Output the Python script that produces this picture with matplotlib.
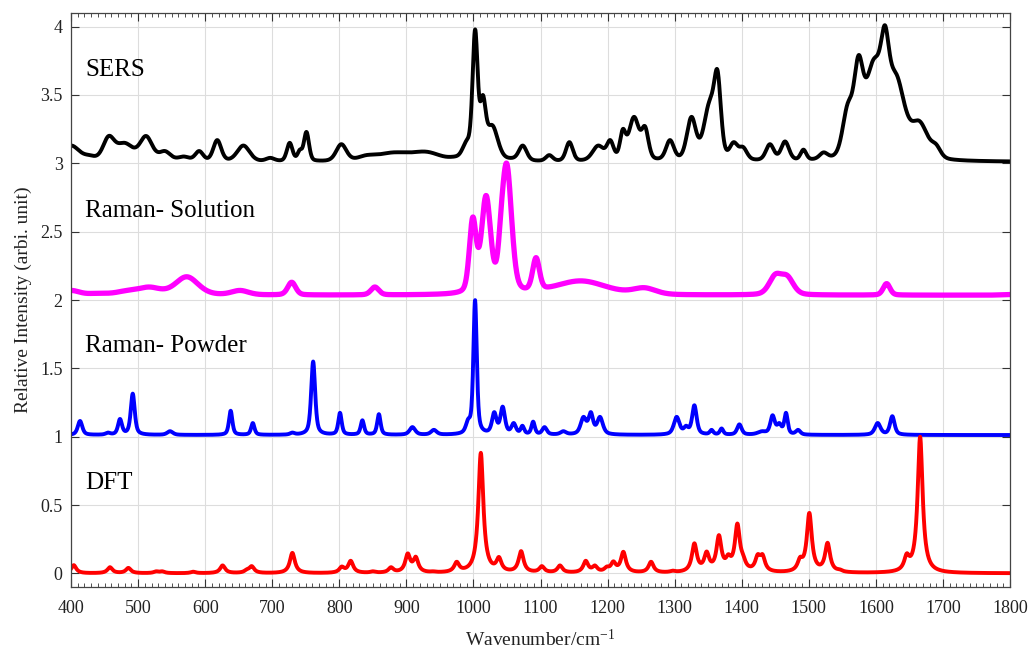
import numpy as np
import matplotlib
matplotlib.use("Agg")
import matplotlib.pyplot as plt
from matplotlib.ticker import MultipleLocator

plt.rcParams['font.family'] = ['Liberation Serif', 'DejaVu Serif']
plt.rcParams['mathtext.fontset'] = 'custom'
plt.rcParams['mathtext.rm'] = 'Liberation Serif'
plt.rcParams['mathtext.default'] = 'regular'

# ---- band tables: centre (cm-1), observed intensity at centre, FWHM (cm-1) ----
sers_base = 3.01
sers_centers = [400, 428, 456, 480, 512, 540, 568, 591, 618, 657, 697, 726, 741, 751, 803,
                840, 880, 930, 972, 990, 1002.5, 1014, 1028, 1057, 1073.5, 1113, 1143, 1186, 1204,
                1222.6, 1239.4, 1256, 1293, 1325, 1352, 1364, 1388, 1402, 1442, 1464.6, 1492,
                1522, 1558, 1574, 1597, 1613.6, 1630, 1665, 1690]
sers_heights = [3.13, 3.06, 3.20, 3.15, 3.20, 3.09, 3.05, 3.09, 3.17, 3.13, 3.04, 3.15, 3.10, 3.23, 3.14,
                3.06, 3.08, 3.085, 3.05, 3.17, 3.98, 3.50, 3.28, 3.04, 3.13, 3.06, 3.155, 3.13, 3.17,
                3.25, 3.34, 3.27, 3.17, 3.34, 3.46, 3.68, 3.155, 3.12, 3.14, 3.16, 3.10,
                3.08, 3.44, 3.79, 3.765, 4.01, 3.66, 3.31, 3.14]
sers_widths = [30, 20, 20, 30, 22, 20, 20, 14, 14, 22, 15, 10, 8, 9, 18,
               30, 60, 50, 20, 15, 9, 10, 20, 20, 14, 12, 12, 20, 12,
               10, 18, 12, 14, 16, 20, 12, 14, 14, 14, 14, 10,
               14, 18, 16, 30, 14, 30, 30, 16]

sol_base = 2.035
sol_centers = [400, 440, 483, 517, 572.5, 652, 729, 853, 975, 999, 1018.8, 1041, 1049.6,
               1093.3, 1160, 1255, 1450, 1468, 1616, 1800]
sol_heights = [2.07, 2.05, 2.07, 2.095, 2.17, 2.07, 2.13, 2.095, 2.05, 2.607, 2.765, 2.655, 3.0,
               2.31, 2.14, 2.09, 2.19, 2.18, 2.12, 2.04]
sol_widths = [30, 30, 40, 40, 40, 30, 14, 14, 30, 12, 16, 10, 17,
              12, 90, 40, 22, 22, 12, 30]

pow_base = 1.012
pow_centers = [413.4, 455, 473, 492, 547.6, 638, 671, 730, 761, 801, 834.4, 859, 909, 941, 992,
               1002.4, 1031, 1043.6, 1060, 1073, 1089, 1106, 1134, 1164, 1175, 1188.7, 1303,
               1317, 1329.4, 1355, 1370, 1396.5, 1430, 1446, 1456, 1466, 1484, 1602.7, 1624.5]
pow_heights = [1.115, 1.03, 1.13, 1.315, 1.04, 1.19, 1.10, 1.03, 1.55, 1.175, 1.12, 1.165, 1.07, 1.05,
               1.13, 2.0, 1.18, 1.22, 1.10, 1.08, 1.11, 1.07, 1.04, 1.145, 1.18, 1.145, 1.145,
               1.08, 1.23, 1.05, 1.06, 1.09, 1.04, 1.157, 1.10, 1.175, 1.05, 1.10, 1.15]
pow_widths = [8, 8, 7, 7, 10, 6, 6, 8, 7, 6, 6, 6, 10, 10, 8,
              6, 8, 8, 8, 6, 6, 8, 10, 10, 8, 10, 10,
              8, 8, 6, 6, 8, 15, 8, 8, 6, 8, 10, 8]

dft_base = 0.0
dft_centers = [404, 458, 485.5, 527, 536, 582, 626, 662, 669.4, 730, 803.6, 817, 850, 877, 902, 914,
               940, 975, 1011, 1038, 1071, 1102, 1129, 1167.4, 1181, 1198.7, 1208.6, 1223.5, 1264.8,
               1297, 1329.4, 1347.7, 1366, 1380, 1393.5, 1402, 1423.8, 1431, 1487, 1500.8, 1528,
               1546, 1646, 1666]
dft_heights = [0.06, 0.045, 0.04, 0.015, 0.015, 0.012, 0.058, 0.03, 0.053, 0.15, 0.05, 0.092, 0.015,
               0.045, 0.146, 0.122, 0.015, 0.085, 0.882, 0.12, 0.163, 0.053, 0.058, 0.092, 0.058,
               0.05, 0.088, 0.158, 0.085, 0.02, 0.22, 0.16, 0.28, 0.14, 0.365, 0.14, 0.14, 0.14,
               0.12, 0.443, 0.224, 0.03, 0.146, 1.0]
dft_fwhm = 9.0

series_names = ['SERS', 'Raman- Solution', 'Raman- Powder', 'DFT']
series_colors = ['black', '#ff00ff', '#0000ff', '#ff0000']

wn = np.arange(400, 1800.01, 0.5)


def band(x, c, w, eta):
    d = (x - c) / w
    gauss = np.exp(-4 * np.log(2) * d ** 2)
    lor = 1.0 / (1.0 + 4 * d ** 2)
    return eta * lor + (1 - eta) * gauss


def spectrum(x, base, centers, heights, widths, eta):
    c = np.asarray(centers, float)
    h = np.asarray(heights, float) - base
    w = np.broadcast_to(np.asarray(widths, float), c.shape)
    A = band(c[:, None], c[None, :], w[None, :], eta)
    active = np.ones(len(c), bool)
    amp = np.zeros(len(c))
    while True:
        sol, *_ = np.linalg.lstsq(A[:, active], h, rcond=None)
        amp[:] = 0
        amp[active] = sol
        if (sol >= 0).all():
            break
        idx = np.flatnonzero(active)[np.argmin(sol)]
        active[idx] = False
    return base + (amp[None, :] * band(x[:, None], c[None, :], w[None, :], eta)).sum(axis=1)


curves = [
    spectrum(wn, sers_base, sers_centers, sers_heights, sers_widths, 0.3),
    spectrum(wn, sol_base, sol_centers, sol_heights, sol_widths, 0.3),
    spectrum(wn, pow_base, pow_centers, pow_heights, pow_widths, 0.6),
    spectrum(wn, dft_base, dft_centers, dft_heights, dft_fwhm, 1.0),
]
line_widths = [2.8, 3.8, 2.8, 2.8]
label_y = [3.68, 2.65, 1.66, 0.66]

fig = plt.figure(figsize=(10.34, 6.49), dpi=100)
ax = fig.add_axes([0.0687, 0.0955, 0.9081, 0.8845])

for y, col, lw in zip(curves, series_colors, line_widths):
    ax.plot(wn, y, color=col, lw=lw, solid_joinstyle='round')

for name, ly in zip(series_names, label_y):
    ax.text(421, ly, name, fontsize=18, ha='left', va='center')

ax.set_xlim(400, 1800)
ax.set_ylim(-0.1, 4.1)
ax.xaxis.set_major_locator(MultipleLocator(100))
ax.xaxis.set_minor_locator(MultipleLocator(10))
ax.set_yticks(np.arange(0, 4.01, 0.5))
ax.set_yticklabels(['0', '0.5', '1', '1.5', '2', '2.5', '3', '3.5', '4'])
ax.tick_params(which='both', direction='in', top=True, right=True, colors='#333333',
               labelcolor='#222222', labelsize=13)
ax.tick_params(axis='x', which='major', pad=9)
ax.tick_params(axis='y', which='major', pad=6)
ax.tick_params(which='major', length=6, width=0.8)
ax.tick_params(which='minor', length=3, width=0.6)
ax.grid(True, which='major', color='#dddddd', lw=0.8)
ax.set_axisbelow(True)
for s in ax.spines.values():
    s.set_color('#444444')
    s.set_linewidth(0.9)

ax.set_xlabel('Wavenumber/cm$^{-1}$', fontsize=14, color='#222222', labelpad=9)
ax.set_ylabel('Relative Intensity (arbi. unit)', fontsize=14, color='#222222', labelpad=6)

fig.savefig('out.png', dpi=100)
